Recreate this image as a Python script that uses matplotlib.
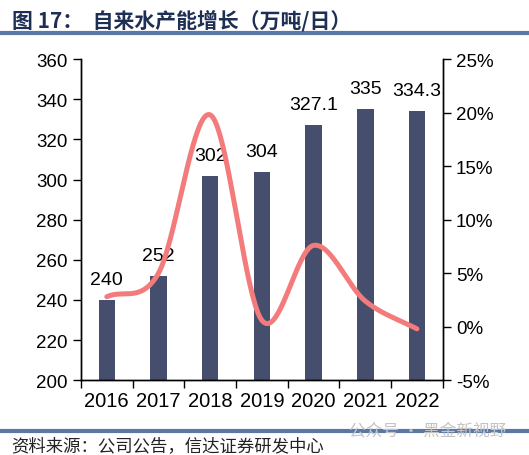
import numpy as np
import matplotlib.pyplot as plt
from matplotlib.ticker import FuncFormatter

plt.rcParams['font.family'] = ['Liberation Sans', 'Noto Sans CJK SC', 'DejaVu Sans']

years = ["2016", "2017", "2018", "2019", "2020", "2021", "2022"]
capacity = [240, 252, 302, 304, 327.1, 335, 334.3]  # 万吨/日
capacity_labels = ["240", "252", "302", "304", "327.1", "335", "334.3"]
growth = [2.8, 5.0, 19.8, 0.6, 7.6, 2.4, -0.2]  # %


def catmull_rom(x, y, n=40):
    # smooth line through every point, like the office "smoothed line" option
    x = np.asarray(x, float)
    y = np.asarray(y, float)
    px = np.concatenate([[2 * x[0] - x[1]], x, [2 * x[-1] - x[-2]]])
    py = np.concatenate([[2 * y[0] - y[1]], y, [2 * y[-1] - y[-2]]])
    xs, ys = [], []
    for i in range(1, len(px) - 2):
        t = np.linspace(0, 1, n)
        for p, out in ((px, xs), (py, ys)):
            p0, p1, p2, p3 = p[i - 1], p[i], p[i + 1], p[i + 2]
            out.extend(0.5 * (2 * p1 + (-p0 + p2) * t
                              + (2 * p0 - 5 * p1 + 4 * p2 - p3) * t ** 2
                              + (-p0 + 3 * p1 - 3 * p2 + p3) * t ** 3))
    return np.array(xs), np.array(ys)


fig = plt.figure(figsize=(5.29, 4.56), dpi=100)
ax = fig.add_axes([0.153, 0.164, 0.684, 0.704])
ax2 = ax.twinx()

x = np.arange(len(years))
ax.bar(x, capacity, width=0.32, color='#454e6d', zorder=2)
for xi, v, lab in zip(x, capacity, capacity_labels):
    ax.text(xi, v + 6, lab, ha='center', va='bottom', fontsize=14, color='black', zorder=5)

sx, sy = catmull_rom(x, growth)
ax2.plot(sx, sy, color='#f47b7b', lw=3.6, solid_capstyle='round', zorder=3)

ax.set_xlim(-0.5, 6.5)
ax.set_ylim(200, 360)
ax.set_yticks(range(200, 361, 20))
ax2.set_ylim(-5, 25)
ax2.set_yticks(range(-5, 26, 5))
ax2.yaxis.set_major_formatter(FuncFormatter(lambda v, p: f"{v:.0f}%"))

ax.set_xticks(x)
ax.set_xticklabels(years)
ax.set_xticks(np.arange(-0.5, 7, 1), minor=True)
ax.tick_params(axis='x', which='major', length=0, labelsize=14.5, pad=8)
ax.tick_params(axis='x', which='minor', length=6, width=1, direction='out')
ax.tick_params(axis='y', length=6, width=1, direction='out', labelsize=13.5)
ax2.tick_params(axis='y', length=6, width=1, direction='out', labelsize=13.5)

for a in (ax, ax2):
    a.spines['top'].set_visible(False)
    for s in ('left', 'right', 'bottom'):
        a.spines[s].set_linewidth(1)
        a.spines[s].set_color('black')
ax.set_zorder(ax2.get_zorder() - 1)
ax2.patch.set_visible(False)

# title and source rules
fig.text(0.022, 0.955, "图 17：  自来水产能增长（万吨/日）", fontsize=15, fontweight='bold',
         color='#1e2f55', va='center', family=['Noto Sans CJK SC', 'DejaVu Sans'])
fig.add_artist(plt.Line2D([0, 1], [0.925, 0.925], color='#5a78a6', lw=3))
fig.add_artist(plt.Line2D([0, 1], [0.053, 0.053], color='#5a78a6', lw=3))
fig.text(0.022, 0.022, "资料来源：公司公告，信达证券研发中心", fontsize=12.5, color='#222222',
         va='center', style='italic', family=['Noto Sans CJK SC', 'DejaVu Sans'])
fig.text(0.66, 0.055, "公众号 · 黑金新视野", fontsize=12, color='#c4c4c4',
         va='center', family=['Noto Sans CJK SC', 'DejaVu Sans'])

fig.savefig('out.png', dpi=100)
